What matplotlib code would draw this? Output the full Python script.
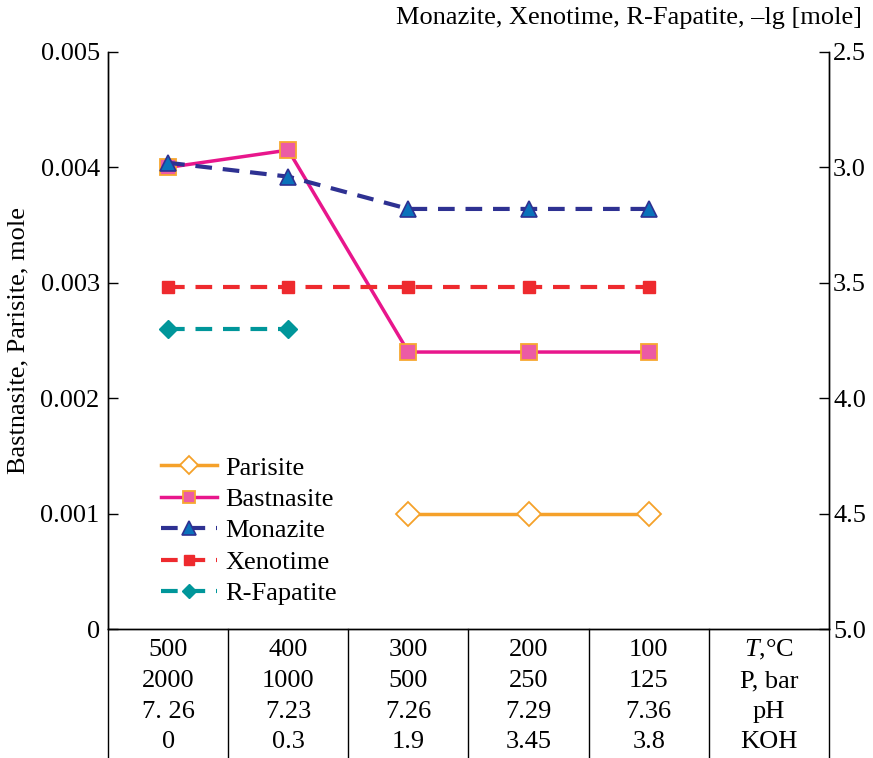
import matplotlib
matplotlib.use("Agg")
import matplotlib.pyplot as plt
import matplotlib.transforms as mtransforms
import numpy as np

plt.rcParams['font.family'] = ['Liberation Serif', 'DejaVu Serif']
plt.rcParams['mathtext.fontset'] = 'custom'
plt.rcParams['mathtext.rm'] = 'Liberation Serif'
plt.rcParams['mathtext.it'] = 'Liberation Serif:italic'

# ---- data ----
temps = [500, 400, 300, 200, 100]
pressure = [2000, 1000, 500, 250, 125]
ph_labels = ["7. 26", "7.23", "7.26", "7.29", "7.36"]
koh = ["0", "0.3", "1.9", "3.45", "3.8"]
row_names = ["$T$,°C", "P, bar", "pH", "KOH"]

parisite = [np.nan, np.nan, 0.0010, 0.0010, 0.0010]
bastnasite = [0.0040, 0.00415, 0.0024, 0.0024, 0.0024]
monazite = [2.98, 3.04, 3.18, 3.18, 3.18]
xenotime = [3.52, 3.52, 3.52, 3.52, 3.52]
rfapatite = [3.70, 3.70, np.nan, np.nan, np.nan]

left_ticks = [0, 0.001, 0.002, 0.003, 0.004, 0.005]
left_ticklabels = ["0", "0.001", "0.002", "0.003", "0.004", "0.005"]
right_ticks = [2.5, 3.0, 3.5, 4.0, 4.5, 5.0]
right_ticklabels = ["2.5", "3.0", "3.5", "4.0", "4.5", "5.0"]

W, H = 873, 758
fig = plt.figure(figsize=(W / 100, H / 100), dpi=100)
ax = fig.add_axes([108 / W, 1 - 629 / H, (829 - 108) / W, (629 - 52) / H])
ax2 = ax.twinx()

x = np.arange(len(temps))
fs = 19

c_par = '#F5A12A'
c_bas = '#E8168C'
c_mon = '#2E3192'
c_xen = '#EE2A2E'
c_rfa = '#00969A'

l_par, = ax.plot(x, parisite, color=c_par, lw=2.5, marker='D', ms=12,
                 mfc='white', mec=c_par, mew=1.3, label='Parisite')
l_bas, = ax.plot(x, bastnasite, color=c_bas, lw=2.5, marker='s', ms=11,
                 mfc='#EC5BA4', mec='#F7A830', mew=1.3, label='Bastnasite')
l_mon, = ax2.plot(x, monazite, color=c_mon, lw=3, ls=(0, (4, 2.6)), marker='^', ms=12,
                  mfc='#0A72BA', mec=c_mon, mew=1.2, label='Monazite')
l_xen, = ax2.plot(x, xenotime, color=c_xen, lw=3, ls=(0, (4, 2.6)), marker='s', ms=9,
                  mfc=c_xen, mec=c_xen, label='Xenotime')
l_rfa, = ax2.plot(x, rfapatite, color=c_rfa, lw=3, ls=(0, (4, 2.6)), marker='D', ms=9,
                  mfc=c_rfa, mec=c_rfa, label='R-Fapatite')

ax.set_xlim(-0.5, 5.5)
ax.set_ylim(0, 0.005)
ax2.set_ylim(5.0, 2.5)
ax.set_xticks([])
ax.set_yticks(left_ticks)
ax.set_yticklabels(left_ticklabels, fontsize=fs)
ax2.set_yticks(right_ticks)
ax2.set_yticklabels(right_ticklabels, fontsize=fs)
ax.tick_params(axis='y', direction='in', length=7, width=1, pad=6)
ax2.tick_params(axis='y', direction='in', length=7, width=1, pad=3)
for a in (ax, ax2):
    a.spines['top'].set_visible(False)
    for s in a.spines.values():
        s.set_linewidth(1)

ax.set_ylabel("Bastnasite, Parisite, mole", fontsize=fs, labelpad=8)
fig.text(862 / W, 1 - 18 / H, "Monazite, Xenotime, R-Fapatite, –lg [mole]",
         fontsize=fs, ha='right', va='center')

leg = ax2.legend(handles=[l_par, l_bas, l_mon, l_xen, l_rfa], loc='lower left',
                 bbox_to_anchor=(0.04, 0.0), frameon=False, fontsize=fs,
                 handlelength=2.15, handletextpad=0.3, labelspacing=0.3,
                 markerscale=0.8)

# ---- table under the axis ----
trans = mtransforms.blended_transform_factory(ax.transData, ax.transAxes)
px = 1 / (629 - 52)
for b in np.arange(-0.5, 5.6, 1.0):
    ax.plot([b, b], [0, -(758 - 629) * px], color='black', lw=1,
            transform=trans, clip_on=False)
rows = [[str(t) for t in temps], [str(p) for p in pressure], ph_labels, koh]
row_y = [650, 681, 712, 742]
for r, (vals, yy) in enumerate(zip(rows, row_y)):
    yfrac = -(yy - 629) * px
    for i, v in enumerate(vals):
        ax.text(i, yfrac, v, transform=trans, ha='center', va='center', fontsize=fs)
    ax.text(5, yfrac, row_names[r], transform=trans, ha='center', va='center', fontsize=fs)

fig.savefig("out.png", dpi=100)
